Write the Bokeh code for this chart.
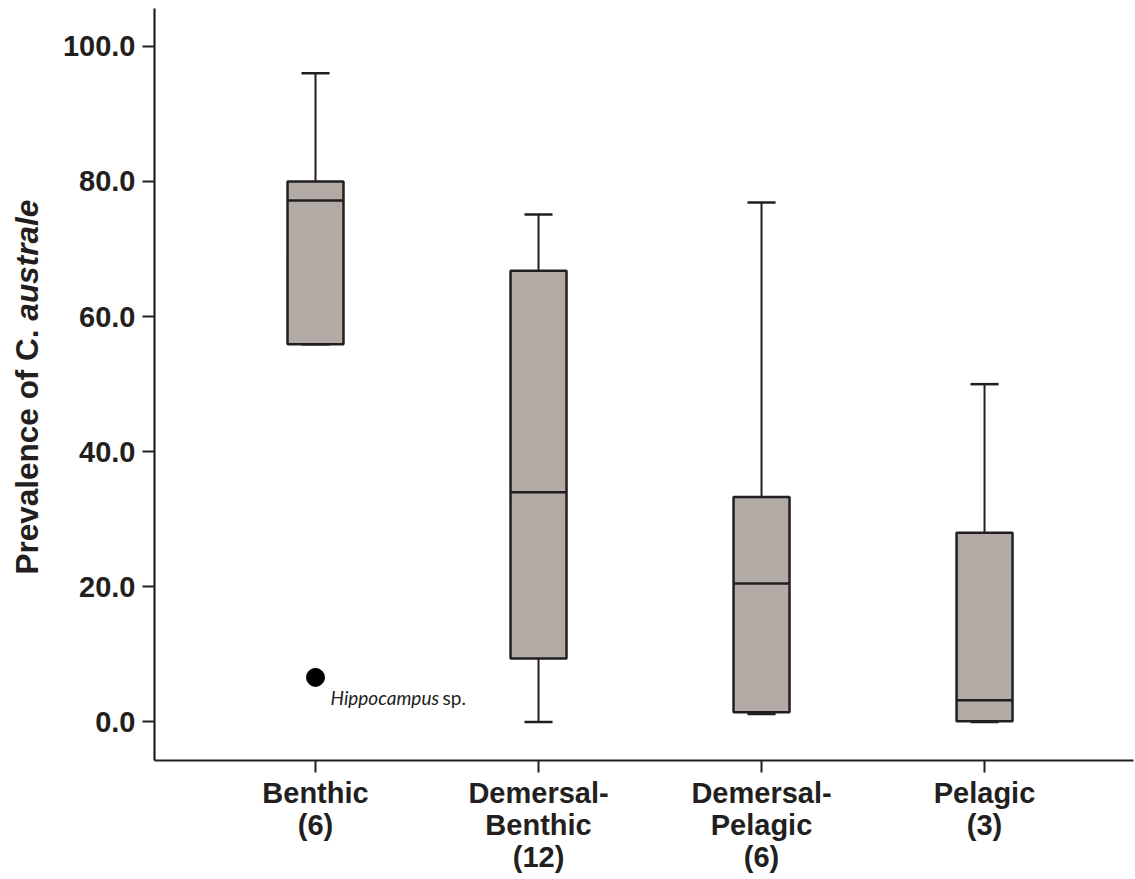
import math
from bokeh.plotting import figure
from bokeh.layouts import row
from bokeh.models import Range1d, FixedTicker, PrintfTickFormatter, Label, ColumnDataSource
from bokeh.core.properties import value
from bokeh.embed import file_html
from bokeh.resources import INLINE

# ---- data ----
categories = ["Benthic", "Demersal-Benthic", "Demersal-Pelagic", "Pelagic"]
counts = [6, 12, 6, 3]
whisker_low = [55.9, 0.0, 1.2, 0.0]
q1 = [55.9, 9.4, 1.45, 0.1]
median = [77.2, 34.0, 20.5, 3.2]
q3 = [80.0, 66.8, 33.3, 28.0]
whisker_high = [96.0, 75.1, 76.9, 50.0]
outlier_category = ["Benthic"]
outlier_value = [6.6]
outlier_name = ["Hippocampus", "sp."]
y_ticks = [0, 20, 40, 60, 80, 100]
y_label_parts = ["Prevalence of C. ", "australe"]

# ---- styling ----
INK = "#231f20"
BOX_FILL = "#b1aaa5"
FONT = "Liberation Sans"
BOX_W = 0.251
CAP_W = 0.126
TOTAL_H = 879
LEFT_W = 50
FRAME_TOP = 8
FRAME_BOTTOM = 760

xpos = [i + 1 for i in range(len(categories))]
cat_index = {c: i + 1 for i, c in enumerate(categories)}


def tick_text(cat, n):
    parts = cat.split("-")
    lines = [p + "-" for p in parts[:-1]] + [parts[-1]]
    return "\n".join(lines + [f"({n})"])


src = ColumnDataSource(dict(
    x=xpos, lo=whisker_low, q1=q1, med=median, q3=q3, hi=whisker_high,
    bl=[x - BOX_W / 2 for x in xpos], br=[x + BOX_W / 2 for x in xpos],
    cl=[x - CAP_W / 2 for x in xpos], cr=[x + CAP_W / 2 for x in xpos],
))

p = figure(width=1135 - LEFT_W, height=TOTAL_H, output_backend="svg", toolbar_location=None,
           x_range=Range1d(0.278, 4.668), y_range=Range1d(-5.7, 105.6),
           min_border_left=154 - LEFT_W, min_border_right=2, min_border_top=FRAME_TOP,
           min_border_bottom=TOTAL_H - FRAME_BOTTOM)
p.outline_line_color = None
p.grid.visible = False
p.background_fill_color = "white"
p.border_fill_color = "white"

# whiskers
p.segment(x0="x", y0="q3", x1="x", y1="hi", source=src, line_color=INK, line_width=2)
p.segment(x0="x", y0="lo", x1="x", y1="q1", source=src, line_color=INK, line_width=2)
# caps
p.segment(x0="cl", y0="hi", x1="cr", y1="hi", source=src, line_color=INK, line_width=2.5)
p.segment(x0="cl", y0="lo", x1="cr", y1="lo", source=src, line_color=INK, line_width=2.5)
# boxes
p.vbar(x="x", width=BOX_W, bottom="q1", top="q3", source=src,
       fill_color=BOX_FILL, line_color=INK, line_width=2.5)
# medians
p.segment(x0="bl", y0="med", x1="br", y1="med", source=src, line_color=INK, line_width=2.5)

# outlier
ox = [cat_index[c] for c in outlier_category]
p.scatter(x=ox, y=outlier_value, size=18, marker="circle", fill_color="black", line_color="black")
p.add_layout(Label(x=ox[0], y=outlier_value[0], text=outlier_name[0], x_offset=15, y_offset=-20,
                   text_font="Lato", text_font_style="italic", text_font_size="19px",
                   text_color=INK, text_baseline="alphabetic", text_align="left"))
p.add_layout(Label(x=ox[0], y=outlier_value[0], text=outlier_name[1], x_offset=127, y_offset=-20,
                   text_font="Lato", text_font_style="normal", text_font_size="19px",
                   text_color=INK, text_baseline="alphabetic", text_align="left"))

# axes
for ax in (p.xaxis[0], p.yaxis[0]):
    ax.axis_line_color = INK
    ax.axis_line_width = 2.2
    ax.major_tick_line_color = INK
    ax.major_tick_line_width = 2
    ax.major_tick_out = 12
    ax.major_tick_in = 0
    ax.minor_tick_line_color = None
    ax.major_label_text_font = FONT
    ax.major_label_text_font_style = "bold"
    ax.major_label_text_color = INK

p.yaxis.ticker = FixedTicker(ticks=y_ticks)
p.yaxis.formatter = PrintfTickFormatter(format="%.1f")
p.yaxis.major_label_text_font_size = "29px"
p.yaxis.major_label_standoff = 7

p.xaxis.ticker = FixedTicker(ticks=xpos)
p.xaxis.major_label_overrides = {x: tick_text(c, n) for x, c, n in zip(xpos, categories, counts)}
p.xaxis.major_label_text_font_size = "29px"
p.xaxis.major_label_text_line_height = 1.0
p.xaxis.major_label_standoff = 4

# ---- y-axis title panel (mixed upright / italic text) ----
# data units of this panel = pixels measured from the bottom of the page
Y_FS = 31.5
first_w = 8.059 * Y_FS
lab = figure(width=LEFT_W, height=TOTAL_H, output_backend="svg", toolbar_location=None,
             x_range=Range1d(0, LEFT_W),
             y_range=Range1d(TOTAL_H - FRAME_BOTTOM, TOTAL_H - FRAME_TOP),
             x_axis_type=None, y_axis_type=None,
             min_border_left=0, min_border_right=0, min_border_top=FRAME_TOP,
             min_border_bottom=TOTAL_H - FRAME_BOTTOM)
lab.outline_line_color = None
lab.grid.visible = False
label_x = 26
label_y0 = TOTAL_H - 574
lab.text(x=[label_x], y=[label_y0], text=[y_label_parts[0]], angle=math.pi / 2,
         text_font=value(FONT), text_font_style="bold", text_font_size=f"{Y_FS}px",
         text_color=INK, text_align="left", text_baseline="middle")
lab.text(x=[label_x], y=[label_y0 + first_w], text=[y_label_parts[1]], angle=math.pi / 2,
         text_font=value(FONT), text_font_style="bold italic", text_font_size=f"{Y_FS}px",
         text_color=INK, text_align="left", text_baseline="middle")

layout = row(lab, p, spacing=0)
open("out.html", "w").write(file_html(layout, INLINE))
